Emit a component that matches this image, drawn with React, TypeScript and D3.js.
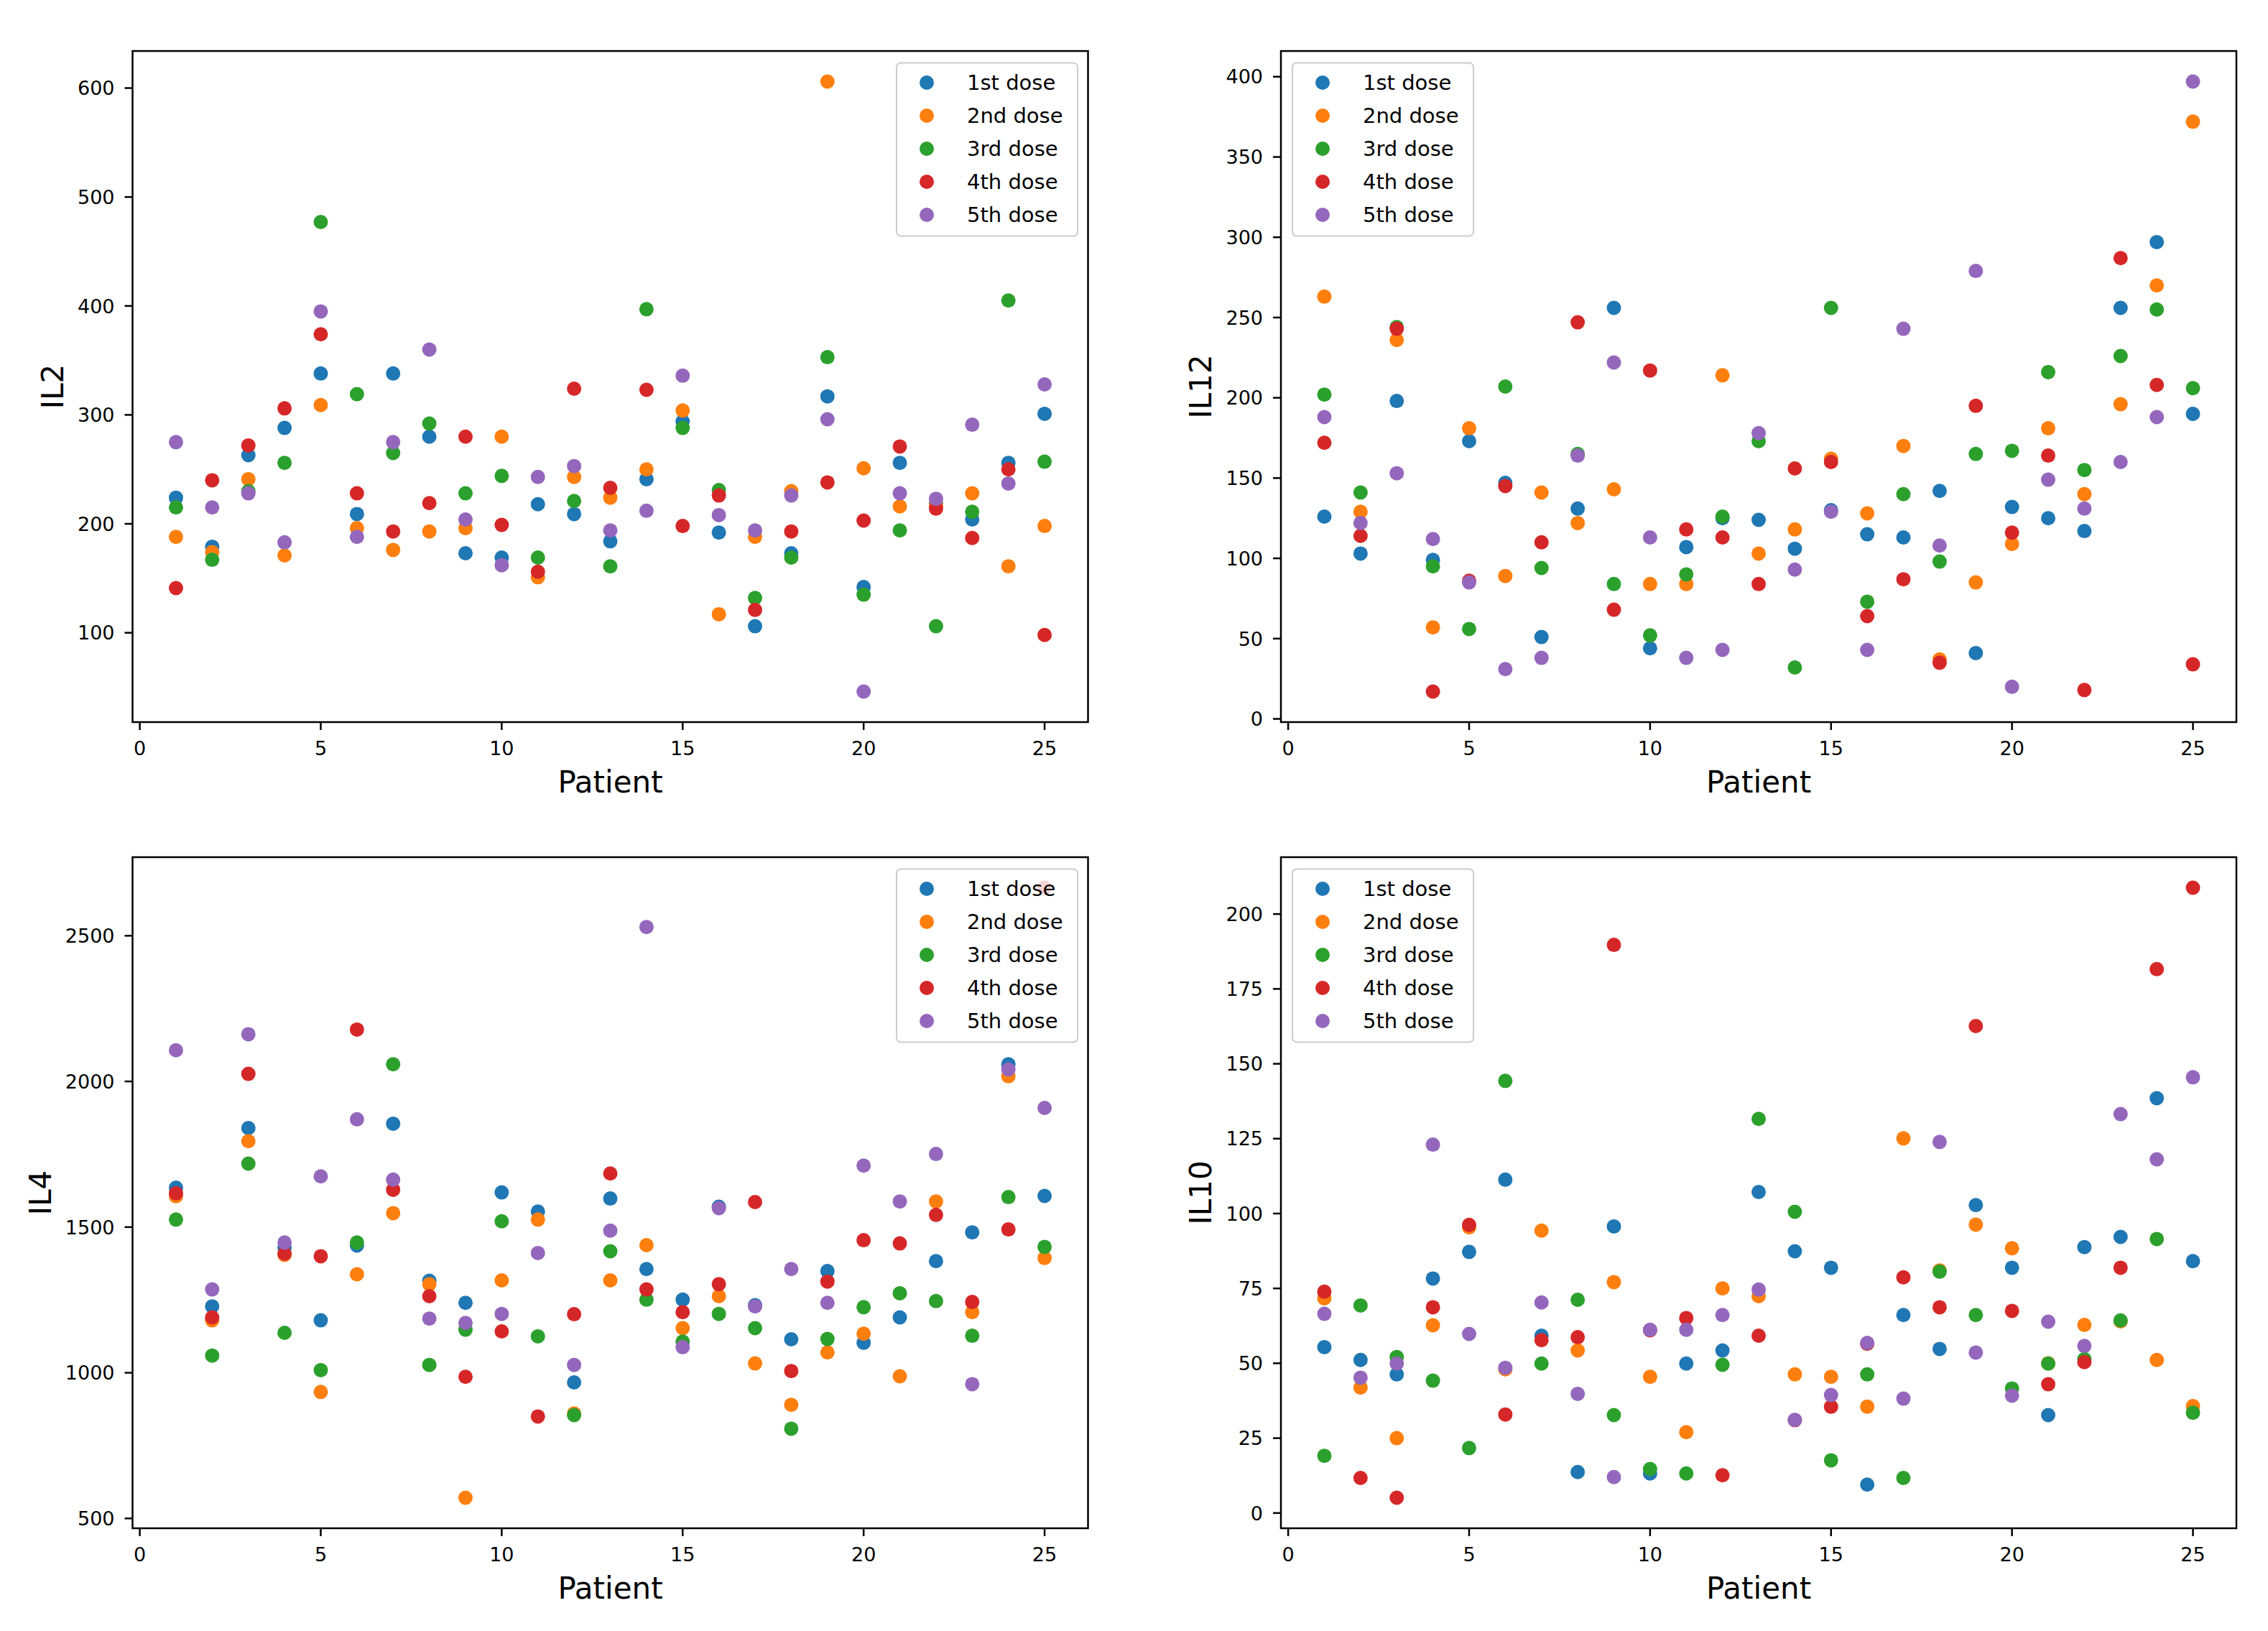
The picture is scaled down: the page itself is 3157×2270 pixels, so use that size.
import * as d3 from "d3"

// patients 1..25
const patients = d3.range(1, 26)
const doses = ["1st dose", "2nd dose", "3rd dose", "4th dose", "5th dose"]
const doseColors = ["#1f77b4", "#ff7f0e", "#2ca02c", "#d62728", "#9467bd"]
const xTicks = [0, 5, 10, 15, 20, 25]

// IL2
const il2Dose1 = [224, 179, 263, 288, 338, 209, 338, 280, 173, 169, 218, 209, 184, 241, 294, 192, 106, 173, 317, 142, 256, 219, 204, 256, 301]
const il2Dose2 = [188, 174, 241, 171, 309, 196, 176, 193, 196, 280, 151, 243, 224, 250, 304, 117, 188, 230, 606, 251, 216, 217, 228, 161, 198]
const il2Dose3 = [215, 167, 230, 256, 477, 319, 265, 292, 228, 244, 169, 221, 161, 397, 288, 231, 132, 169, 353, 135, 194, 106, 211, 405, 257]
const il2Dose4 = [141, 240, 272, 306, 374, 228, 193, 219, 280, 199, 156, 324, 233, 323, 198, 226, 121, 193, 238, 203, 271, 214, 187, 250, 98]
const il2Dose5 = [275, 215, 228, 183, 395, 188, 275, 360, 204, 162, 243, 253, 194, 212, 336, 208, 194, 226, 296, 46, 228, 223, 291, 237, 328]
const il2Ticks = [100, 200, 300, 400, 500, 600]

// IL12
const il12Dose1 = [126, 103, 198, 99, 173, 147, 51, 131, 256, 44, 107, 125, 124, 106, 130, 115, 113, 142, 41, 132, 125, 117, 256, 297, 190]
const il12Dose2 = [263, 129, 236, 57, 181, 89, 141, 122, 143, 84, 84, 214, 103, 118, 162, 128, 170, 37, 85, 109, 181, 140, 196, 270, 372]
const il12Dose3 = [202, 141, 244, 95, 56, 207, 94, 165, 84, 52, 90, 126, 173, 32, 256, 73, 140, 98, 165, 167, 216, 155, 226, 255, 206]
const il12Dose4 = [172, 114, 243, 17, 86, 145, 110, 247, 68, 217, 118, 113, 84, 156, 160, 64, 87, 35, 195, 116, 164, 18, 287, 208, 34]
const il12Dose5 = [188, 122, 153, 112, 85, 31, 38, 164, 222, 113, 38, 43, 178, 93, 129, 43, 243, 108, 279, 20, 149, 131, 160, 188, 397]
const il12Ticks = [0, 50, 100, 150, 200, 250, 300, 350, 400]

// IL4
const il4Dose1 = [1635, 1228, 1840, 1430, 1180, 1437, 1855, 1316, 1240, 1619, 1553, 967, 1598, 1356, 1251, 1570, 1232, 1115, 1349, 1103, 1190, 1383, 1482, 2059, 1607]
const il4Dose2 = [1606, 1180, 1795, 1405, 934, 1338, 1548, 1304, 571, 1317, 1526, 860, 1317, 1438, 1153, 1263, 1032, 890, 1070, 1134, 988, 1588, 1208, 2018, 1394]
const il4Dose3 = [1526, 1059, 1718, 1137, 1009, 1447, 2059, 1027, 1148, 1520, 1125, 855, 1417, 1251, 1107, 1202, 1153, 808, 1116, 1225, 1273, 1246, 1127, 1603, 1432]
const il4Dose4 = [1616, 1190, 2026, 1409, 1400, 2178, 1628, 1263, 986, 1142, 850, 1201, 1684, 1286, 1208, 1304, 1586, 1006, 1313, 1455, 1444, 1542, 1243, 1492, 2665]
const il4Dose5 = [2107, 1286, 2162, 1447, 1674, 1870, 1663, 1186, 1171, 1202, 1411, 1027, 1488, 2530, 1088, 1565, 1228, 1356, 1240, 1711, 1588, 1751, 961, 2041, 1909]
const il4Ticks = [500, 1000, 1500, 2000, 2500]

// IL10
const il10Dose1 = [55.4, 51.1, 46.3, 78.3, 87.2, 111.3, 59.2, 13.7, 95.7, 13.2, 49.9, 54.3, 107.2, 87.4, 81.9, 9.5, 66.1, 54.8, 102.8, 81.9, 32.7, 88.8, 92.2, 138.5, 84.1]
const il10Dose2 = [71.7, 41.9, 25.0, 62.7, 95.4, 48, 94.3, 54.3, 77.1, 45.5, 27.0, 75.0, 72.4, 46.3, 45.5, 35.5, 125.1, 81, 96.3, 88.4, 50, 62.8, 64, 51.1, 35.7]
const il10Dose3 = [19.1, 69.3, 52.1, 44.2, 21.7, 144.3, 49.9, 71.2, 32.7, 14.7, 13.2, 49.5, 131.6, 100.6, 17.6, 46.3, 11.7, 80.6, 66.1, 41.6, 49.9, 51.4, 64.3, 91.5, 33.5]
const il10Dose4 = [73.9, 11.7, 5.1, 68.7, 96.2, 32.9, 57.7, 58.7, 189.7, 61, 65.1, 12.6, 59.2, 31, 35.5, 56.5, 78.7, 68.7, 162.6, 67.5, 43.0, 50.4, 81.9, 181.6, 208.8]
const il10Dose5 = [66.5, 45.2, 49.9, 123, 59.8, 48.5, 70.3, 39.8, 12.0, 61.2, 61.2, 66.1, 74.6, 31.1, 39.4, 56.8, 38.2, 123.9, 53.6, 39.2, 63.9, 55.8, 133.2, 118.1, 145.5]
const il10Ticks = [0, 25, 50, 75, 100, 125, 150, 175, 200]

const W = 3157
const H = 2270
const FONT = "DejaVu Sans, sans-serif"
const TICK_FONT = 27
const LABEL_FONT = 42
const LEGEND_FONT = 29
const DOT_R = 10

const panels = [
  { name: "IL2", series: [il2Dose1, il2Dose2, il2Dose3, il2Dose4, il2Dose5], ticks: il2Ticks, left: 184.5, top: 71, legend: "right" },
  { name: "IL12", series: [il12Dose1, il12Dose2, il12Dose3, il12Dose4, il12Dose5], ticks: il12Ticks, left: 1783, top: 71, legend: "left" },
  { name: "IL4", series: [il4Dose1, il4Dose2, il4Dose3, il4Dose4, il4Dose5], ticks: il4Ticks, left: 184.5, top: 1193, legend: "right" },
  { name: "IL10", series: [il10Dose1, il10Dose2, il10Dose3, il10Dose4, il10Dose5], ticks: il10Ticks, left: 1783, top: 1193, legend: "left" },
]

const PW = 1330
const PH = 934

// matplotlib-like 5% auto margins
function withMargin(ext: [number, number]): [number, number] {
  const pad = (ext[1] - ext[0]) * 0.05
  return [ext[0] - pad, ext[1] + pad]
}

function Panel({ p }: { p: (typeof panels)[number] }) {
  const x = d3.scaleLinear().domain(withMargin(d3.extent(patients) as [number, number])).range([p.left, p.left + PW])
  const all = p.series.flat()
  const y = d3.scaleLinear().domain(withMargin(d3.extent(all) as [number, number])).range([p.top + PH, p.top])
  const bottom = p.top + PH
  const maxLabel = d3.max(p.ticks, (t) => String(t).length) as number
  const labelX = p.left - 25 - maxLabel * 0.636 * TICK_FONT - 20

  const legW = 252
  const legH = 241
  const legX = p.legend === "right" ? p.left + PW - 14.5 - legW : p.left + 16
  const legY = p.top + 16.5

  return (
    <g>
      {p.series.map((vals, si) => (
        <g key={si}>
          {vals.map((v, i) => (
            <circle key={i} cx={x(patients[i])} cy={y(v)} r={DOT_R} fill={doseColors[si]} />
          ))}
        </g>
      ))}

      {/* legend */}
      <g>
        <rect x={legX} y={legY} width={legW} height={legH} rx={6} fill="white" fillOpacity={0.8} stroke="#cccccc" strokeWidth={2} />
        {doses.map((d, i) => (
          <g key={d} transform={`translate(${legX},${legY + 27.5 + i * 46})`}>
            <circle cx={42} cy={0} r={DOT_R} fill={doseColors[i]} />
            <text x={98} y={0} dy="0.36em" fontSize={LEGEND_FONT} fontFamily={FONT} fill="#000">
              {d}
            </text>
          </g>
        ))}
      </g>

      {/* frame */}
      <rect x={p.left} y={p.top} width={PW} height={PH} fill="none" stroke="#000" strokeWidth={2.5} />

      {/* x axis */}
      {xTicks.map((t) => (
        <g key={t}>
          <line x1={x(t)} x2={x(t)} y1={bottom} y2={bottom + 11} stroke="#000" strokeWidth={2.5} />
          <text x={x(t)} y={bottom + 46} textAnchor="middle" fontSize={TICK_FONT} fontFamily={FONT}>
            {t}
          </text>
        </g>
      ))}
      <text x={p.left + PW / 2} y={bottom + 97.5} textAnchor="middle" fontSize={LABEL_FONT} fontFamily={FONT}>
        Patient
      </text>

      {/* y axis */}
      {p.ticks.map((t) => (
        <g key={t}>
          <line x1={p.left - 11} x2={p.left} y1={y(t)} y2={y(t)} stroke="#000" strokeWidth={2.5} />
          <text x={p.left - 25} y={y(t)} dy="0.36em" textAnchor="end" fontSize={TICK_FONT} fontFamily={FONT}>
            {t}
          </text>
        </g>
      ))}
      <text
        transform={`translate(${labelX},${p.top + PH / 2}) rotate(-90)`}
        textAnchor="middle"
        fontSize={LABEL_FONT}
        fontFamily={FONT}
      >
        {p.name}
      </text>
    </g>
  )
}

export default function App() {
  return (
    <svg width={W} height={H} style={{ position: "absolute", left: 0, top: 0, background: "white" }}>
      <rect width={W} height={H} fill="white" />
      {panels.map((p) => (
        <Panel key={p.name} p={p} />
      ))}
    </svg>
  )
}
